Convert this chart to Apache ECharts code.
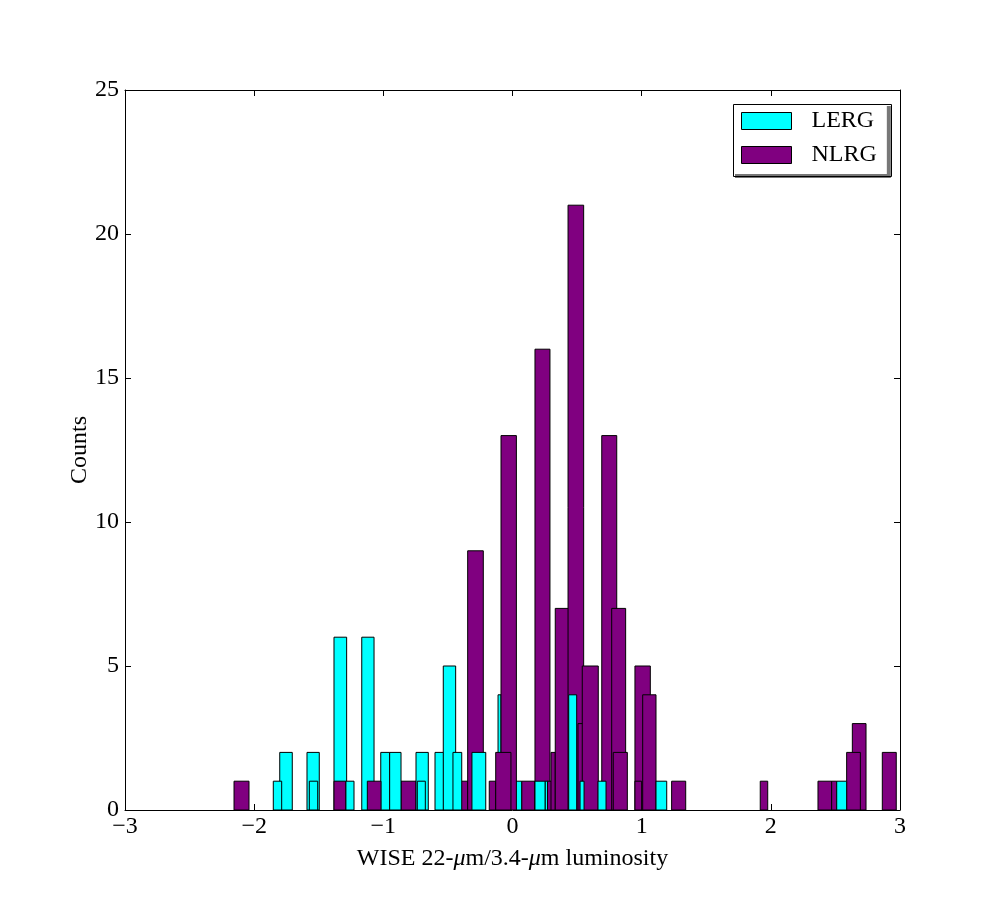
<!DOCTYPE html>
<html>
<head>
<meta charset="utf-8">
<script src="https://cdn.jsdelivr.net/npm/echarts@6/dist/echarts.min.js"></script>
<style>html,body{margin:0;padding:0;background:#fff;}#c{width:1000px;height:900px;}</style>
</head>
<body>
<div id="c"></div>
<script>
// Each bar: [left edge, right edge, count]
var nlrgBack = [
  [-2.156, -2.040, 1], [-0.863, -0.747, 1], [-0.399, -0.347, 1], [-0.347, -0.226, 9],
  [-0.180, -0.130, 1], [0.071, 0.174, 1], [0.174, 0.290, 16], [0.267, 0.303, 1],
  [0.298, 0.331, 2], [0.331, 0.435, 7], [0.430, 0.551, 21], [0.507, 0.556, 3],
  [0.540, 0.664, 5], [0.691, 0.807, 13], [0.768, 0.876, 7], [0.780, 0.889, 2],
  [0.948, 1.067, 5], [0.948, 1.000, 1], [1.008, 1.111, 4], [1.232, 1.341, 1],
  [1.918, 1.976, 1], [2.365, 2.471, 1], [2.471, 2.510, 1], [2.631, 2.737, 3],
  [2.587, 2.693, 2], [2.863, 2.971, 2]
];
var lergBack = [
  [-1.802, -1.705, 2], [-1.591, -1.496, 2], [-1.382, -1.284, 6], [-1.291, -1.227, 1],
  [-1.167, -1.072, 6], [-1.020, -0.951, 2], [-0.951, -0.863, 2], [-0.747, -0.652, 2],
  [-0.600, -0.534, 2], [-0.536, -0.440, 5], [-0.112, -0.089, 4], [-0.014, 0.071, 1],
  [0.252, 0.271, 1], [0.523, 0.554, 1], [1.111, 1.194, 1], [2.510, 2.587, 1]
];
var nlrgFront = [
  [-1.382, -1.291, 1], [-1.124, -1.018, 1], [-0.089, 0.030, 13], [-0.130, -0.012, 2]
];
var lergFront = [
  [-1.852, -1.787, 1], [-1.573, -1.508, 1], [-0.737, -0.675, 1], [-0.461, -0.393, 2],
  [-0.314, -0.207, 2], [0.174, 0.252, 1], [0.435, 0.497, 4], [0.662, 0.724, 1]
];
var xTicks = [-3, -2, -1, 0, 1, 2, 3];
var yTicks = [0, 5, 10, 15, 20, 25];

var LERG_COLOR = '#00ffff';
var NLRG_COLOR = '#800080';
var FONT = 'Liberation Serif';

function makeRender(color) {
  return function (params, api) {
    var p0 = api.coord([api.value(0), api.value(2)]);
    var p1 = api.coord([api.value(1), 0]);
    return {
      type: 'rect',
      shape: { x: p0[0], y: p0[1], width: p1[0] - p0[0], height: p1[1] - p0[1] },
      style: { fill: color, stroke: '#000', lineWidth: 1 }
    };
  };
}
function barSeries(name, data, color) {
  return {
    type: 'custom', name: name, data: data, renderItem: makeRender(color),
    itemStyle: { color: color, borderColor: '#000', borderWidth: 1 },
    encode: { x: [0, 1], y: 2 }, clip: true, xAxisIndex: 0, yAxisIndex: 0
  };
}
function fmtNum(v) { return v < 0 ? '\u2212' + Math.abs(v) : String(v); }

var chart = echarts.init(document.getElementById('c'));
var axisLineStyle = { show: true, onZero: false, lineStyle: { color: '#000', width: 1 } };
var tickStyle = { inside: true, length: 6, lineStyle: { color: '#000' } };
chart.setOption({
  animation: false,
  backgroundColor: '#fff',
  grid: { left: 125, top: 90, width: 775, height: 720 },
  xAxis: [{
    type: 'value', min: xTicks[0], max: xTicks[xTicks.length - 1], interval: 1,
    axisLine: axisLineStyle, splitLine: { show: false }, axisTick: tickStyle,
    axisLabel: { formatter: fmtNum, color: '#000', fontFamily: FONT, fontSize: 24, margin: 5 },
    name: 'WISE 22-{i|\u03bc}m/3.4-{i|\u03bc}m luminosity',
    nameLocation: 'middle', nameGap: 37,
    nameTextStyle: { color: '#000', fontFamily: FONT, fontSize: 24,
      rich: { i: { fontStyle: 'italic', fontFamily: FONT, fontSize: 24, color: '#000' } } }
  }, {
    type: 'value', position: 'top', min: xTicks[0], max: xTicks[xTicks.length - 1], interval: 1,
    axisLine: axisLineStyle, splitLine: { show: false }, axisTick: tickStyle,
    axisLabel: { show: false }
  }],
  yAxis: [{
    type: 'value', min: yTicks[0], max: yTicks[yTicks.length - 1], interval: 5,
    axisLine: axisLineStyle, splitLine: { show: false }, axisTick: tickStyle,
    axisLabel: { color: '#000', fontFamily: FONT, fontSize: 24, margin: 6 },
    name: 'Counts', nameLocation: 'middle', nameGap: 33, nameRotate: 90, nameMoveOverlap: false,
    nameTextStyle: { color: '#000', fontFamily: FONT, fontSize: 24 }
  }, {
    type: 'value', position: 'right', min: yTicks[0], max: yTicks[yTicks.length - 1], interval: 5,
    axisLine: axisLineStyle, splitLine: { show: false }, axisTick: tickStyle,
    axisLabel: { show: false }
  }],
  legend: {
    data: ['LERG', 'NLRG'], orient: 'vertical', left: 731, top: 102,
    padding: [7, 10, 7, 10], itemGap: 10, itemWidth: 50, itemHeight: 17,
    icon: 'rect', backgroundColor: '#fff', borderWidth: 0,
    shadowColor: '#777', shadowBlur: 0, shadowOffsetX: 4, shadowOffsetY: 4,
    itemStyle: { borderColor: '#000', borderWidth: 1 },
    textStyle: { color: '#000', fontFamily: FONT, fontSize: 24, padding: [0, 0, 0, 15] }
  },
  graphic: [{
    type: 'rect', left: 731, top: 102, z: 100, silent: true,
    shape: { width: 158, height: 72 },
    style: { fill: 'none', stroke: '#000', lineWidth: 1 }
  }],
  series: [
    barSeries('NLRG', nlrgBack, NLRG_COLOR),
    barSeries('LERG', lergBack, LERG_COLOR),
    barSeries('NLRG', nlrgFront, NLRG_COLOR),
    barSeries('LERG', lergFront, LERG_COLOR)
  ]
});
</script>
</body>
</html>
